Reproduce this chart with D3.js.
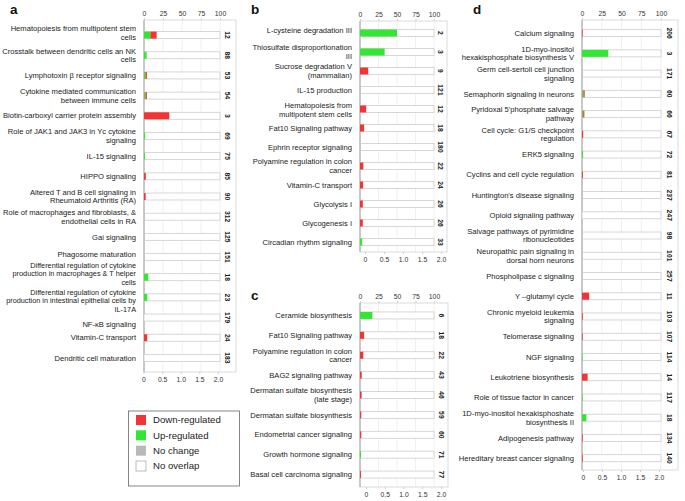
<!DOCTYPE html>
<html><head><meta charset="utf-8">
<script src="https://cdn.jsdelivr.net/npm/d3@7"></script>
<style>body{margin:0;background:#fff;} svg{display:block;font-family:"Liberation Sans",Arial,Helvetica,sans-serif;}</style>
</head><body><svg id="chart" width="685" height="501"></svg>
<script>
// ---------- data ----------
const topTicks = [0, 25, 50, 75, 100];
const bottomTicks = [0, 0.5, 1.0, 1.5, 2.0];
const bottomTickLabels = ["0", "0.5", "1.0", "1.5", "2.0"];
const legendLabels = ["Down-regulated", "Up-regulated", "No change", "No overlap"];

const aCategories = [
  "Hematopoiesis from multipotent stem\ncells",
  "Crosstalk between dendritic cells an NK\ncells",
  "Lymphotoxin β receptor signaling",
  "Cytokine mediated communication\nbetween immune cells",
  "Biotin-carboxyl carrier protein assembly",
  "Role of JAK1 and JAK3 in Yc cytokine\nsignaling",
  "IL-15 signaling",
  "HIPPO signaling",
  "Altered T and B cell signaling in\nRheumatoid Arthritis (RA)",
  "Role of macrophages and fibroblasts, &\nendothelial cells in RA",
  "Gai signaling",
  "Phagosome maturation",
  "Differential regulation of cytokine\nproduction in macrophages & T helper\ncells",
  "Differential regulation of cytokine\nproduction in intestinal epithelial cells by\nIL-17A",
  "NF-κB signaling",
  "Vitamin-C transport",
  "Dendritic cell maturation"
];
const aTotals   = [12, 88, 53, 54, 3, 69, 75, 85, 90, 312, 125, 151, 18, 23, 179, 24, 183];
const aUp       = [8.3, 3.4, 1.9, 1.9, 0, 1.5, 1.3, 0, 0, 0, 0, 0, 5.6, 4.3, 0, 0, 0];
const aDown     = [8.3, 0, 1.9, 1.9, 33.3, 0, 0, 2.4, 2.2, 0, 0, 0, 0, 0, 0, 4.2, 0];
const aNoChange = [0, 0, 0, 0, 0, 0, 0, 0, 0, 0.3, 0.8, 0.7, 0, 0, 0, 0, 0];

const bCategories = [
  "L-cysteine degradation III",
  "Thiosulfate disproportionation\nIII",
  "Sucrose degradation V\n(mammalian)",
  "IL-15 production",
  "Hematopoiesis from\nmultipotent stem cells",
  "Fat10 Signaling pathway",
  "Ephrin receptor signaling",
  "Polyamine regulation in colon\ncancer",
  "Vitamin-C transport",
  "Glycolysis I",
  "Glycogenesis I",
  "Circadian rhythm signaling"
];
const bTotals   = [2, 3, 9, 121, 12, 18, 180, 22, 24, 26, 26, 33];
const bUp       = [50, 33.3, 0, 0, 0, 0, 0, 0, 0, 0, 0, 3.0];
const bDown     = [0, 0, 11.1, 0, 8.3, 5.6, 0, 4.5, 4.2, 3.8, 3.8, 0];
const bNoChange = [0, 0, 0, 0.8, 0, 0, 0.6, 0, 0, 0, 0, 0];

const cCategories = [
  "Ceramide biosynthesis",
  "Fat10 Signaling pathway",
  "Polyamine regulation in colon\ncancer",
  "BAG2 signaling pathway",
  "Dermatan sulfate biosynthesis\n(late stage)",
  "Dermatan sulfate biosynthesis",
  "Endometrial cancer signaling",
  "Growth hormone signaling",
  "Basal cell carcinoma signaling"
];
const cTotals   = [6, 18, 22, 43, 46, 59, 60, 71, 77];
const cUp       = [16.7, 0, 0, 0, 0, 0, 0, 1.4, 0];
const cDown     = [0, 5.6, 4.5, 2.3, 2.2, 1.7, 1.7, 0, 1.3];
const cNoChange = [0, 0, 0, 0, 0, 0, 0, 0, 0];

const dCategories = [
  "Calcium signaling",
  "1D-myo-inositol\nhexakisphosphate biosynthesis V",
  "Germ cell-sertoli cell junction\nsignaling",
  "Semaphorin signaling in neurons",
  "Pyridoxal 5'phosphate salvage\npathway",
  "Cell cycle: G1/S checkpoint\nregulation",
  "ERK5 signaling",
  "Cyclins and cell cycle regulation",
  "Huntington's disease signaling",
  "Opioid signaling pathway",
  "Salvage pathways of pyrimidine\nribonucleotides",
  "Neuropathic pain signaling in\ndorsal horn neurons",
  "Phospholipase c signaling",
  "Y –glutamyl cycle",
  "Chronic myeloid leukemia\nsignaling",
  "Telomerase signaling",
  "NGF signaling",
  "Leukotriene biosynthesis",
  "Role of tissue factor in cancer",
  "1D-myo-inositol hexakisphoshate\nbiosynthesis II",
  "Adipogenesis pathway",
  "Hereditary breast cancer signaling"
];
const dTotals   = [206, 3, 171, 60, 66, 67, 72, 81, 237, 247, 98, 101, 257, 11, 103, 107, 114, 14, 117, 18, 134, 140];
const dUp       = [0, 33.3, 0, 1.7, 1.5, 0, 1.4, 0, 0, 0, 0, 0, 0, 0, 0, 0, 0.9, 0, 0.9, 5.6, 0, 0];
const dDown     = [1.0, 0, 0, 1.7, 1.5, 1.5, 0, 1.2, 0, 0, 0, 0, 0, 9.1, 1.0, 0.9, 0, 7.1, 0, 0, 0.7, 0.7];
const dNoChange = [0, 0, 0.6, 0, 0, 0, 0, 0, 0.4, 0, 1.0, 1.0, 0.4, 0, 0, 0, 0, 0, 0, 0, 0, 0];

// ---------- styles / layout ----------
const RED = "#f43434", GREEN = "#33e633", GRAY = "#b9b9b9";
const FONT = '"Liberation Sans", Arial, Helvetica, sans-serif';
const svg = d3.select("#chart");

const layouts = {
  a: {letter: "a", lx: 10, ly: 14, x0: 144, x1: 220, bx0: 143.5, bx1: 218, yTop: 20, yBot: 372, bandTop: 25, bandBot: 368, right: 236, numX: 227,
      nudge: {0: -2, 11: -3, 12: -3.5, 13: 3.5, 14: 7}},
  b: {letter: "b", lx: 251, ly: 14, x0: 360, x1: 434, bx0: 365, bx1: 441, yTop: 21, yBot: 252, bandTop: 23.5, bandBot: 251.5, right: 447, numX: 440,
      nudge: {0: -3, 4: 1}},
  c: {letter: "c", lx: 251, ly: 300, x0: 360, x1: 434, bx0: 366, bx1: 441, yTop: 303, yBot: 487, bandTop: 305.5, bandBot: 484.5, right: 448, numX: 441,
      nudge: {}},
  d: {letter: "d", lx: 473, ly: 14, x0: 582, x1: 661, bx0: 583, bx1: 659, yTop: 20, yBot: 470, bandTop: 23, bandBot: 468.3, right: 678, numX: 669,
      nudge: {}}
};

function drawPanel(p, cats, totals, up, down, nc) {
  const g = svg.append("g");
  const x = d3.scaleLinear().domain([0, 100]).range([p.x0, p.x1]);
  const xb = d3.scaleLinear().domain([0, 2]).range([p.bx0, p.bx1]);
  const y = d3.scaleBand().domain(d3.range(cats.length)).range([p.bandTop, p.bandBot]);
  const cy = i => y(i) + y.bandwidth() / 2;

  // gridlines
  g.selectAll("line.grid").data(topTicks.slice(1)).join("line")
    .attr("x1", d => x(d)).attr("x2", d => x(d))
    .attr("y1", p.yTop).attr("y2", p.yBot)
    .attr("stroke", "#ececec").attr("stroke-width", 0.8);

  // frame
  g.append("rect").attr("x", p.x0).attr("y", p.yTop)
    .attr("width", p.right - p.x0).attr("height", p.yBot - p.yTop)
    .attr("fill", "none").attr("stroke", "#d2d2d2").attr("stroke-width", 0.8);
  g.append("line").attr("x1", p.x0).attr("x2", p.x0).attr("y1", p.yTop).attr("y2", p.yBot)
    .attr("stroke", "#9a9a9a").attr("stroke-width", 0.9);

  // top axis
  const ta = g.append("g").attr("transform", `translate(0,${p.yTop})`)
    .call(d3.axisTop(x).tickValues(topTicks).tickSize(2).tickPadding(2).tickFormat(d3.format("d")));
  ta.select(".domain").remove();
  ta.selectAll("line").attr("stroke", "#cfcfcf");
  ta.selectAll("text").attr("font-size", 6.8).attr("fill", "#333").attr("font-family", FONT);

  // bottom axis
  const ba = g.append("g").attr("transform", `translate(0,${p.yBot})`)
    .call(d3.axisBottom(xb).tickValues(bottomTicks).tickSize(2).tickPadding(3)
      .tickFormat((d, i) => bottomTickLabels[i]));
  ba.select(".domain").remove();
  ba.selectAll("line").attr("stroke", "#cfcfcf");
  ba.selectAll("text").attr("font-size", 6.8).attr("fill", "#333").attr("font-family", FONT);

  // rows
  const rows = g.selectAll("g.row").data(cats.map((c, i) => ({c, i}))).join("g");
  const bh = 7;
  rows.append("rect")
    .attr("x", x(0)).attr("y", d => cy(d.i) - bh / 2)
    .attr("width", x(100) - x(0)).attr("height", bh)
    .attr("fill", "#fff").attr("stroke", "#cdcdcd").attr("stroke-width", 0.8);
  const segs = [];
  cats.forEach((c, i) => {
    let s = 0;
    [[up[i], GREEN], [down[i], RED], [nc[i], GRAY]].forEach(([v, col]) => {
      if (v > 0) { segs.push({i, a: s, b: s + v, col}); s += v; }
    });
  });
  g.selectAll("rect.seg").data(segs).join("rect")
    .attr("x", d => x(d.a)).attr("width", d => Math.max(0.8, x(d.b) - x(d.a)))
    .attr("y", d => cy(d.i) - bh / 2).attr("height", bh)
    .attr("fill", d => d.col);

  // labels
  rows.append("text")
    .attr("text-anchor", "end").attr("fill", "#1a1a1a")
    .attr("font-family", FONT)
    .each(function(d) {
      const lines = d.c.split("\n");
      const fs = lines.length > 2 ? 7.3 : 7.6;
      const lh = lines.length > 2 ? 8.4 : 8.6;
      const c0 = cy(d.i) + (p.nudge[d.i] || 0);
      const t = d3.select(this).attr("font-size", fs);
      lines.forEach((ln, k) => {
        t.append("tspan").attr("x", p.x0 - 8)
          .attr("y", c0 - (lines.length - 1) * lh / 2 + k * lh)
          .attr("dy", "0.35em").text(ln);
      });
    });

  // totals (rotated)
  rows.append("text")
    .attr("transform", d => `translate(${p.numX},${cy(d.i)}) rotate(90)`)
    .attr("text-anchor", "middle").attr("dy", "0.35em")
    .attr("font-size", 6.8).attr("font-weight", "bold").attr("fill", "#1a1a1a")
    .attr("font-family", FONT)
    .text(d => totals[d.i]);

  // panel letter
  svg.append("text").attr("x", p.lx).attr("y", p.ly)
    .attr("font-size", 13.5).attr("font-weight", "bold").attr("font-family", FONT)
    .attr("fill", "#111").text(p.letter);
}

drawPanel(layouts.a, aCategories, aTotals, aUp, aDown, aNoChange);
drawPanel(layouts.b, bCategories, bTotals, bUp, bDown, bNoChange);
drawPanel(layouts.c, cCategories, cTotals, cUp, cDown, cNoChange);
drawPanel(layouts.d, dCategories, dTotals, dUp, dDown, dNoChange);

// legend
const legendColors = [RED, GREEN, GRAY, "#fff"];
const lg = svg.append("g");
lg.append("rect").attr("x", 128.5).attr("y", 411).attr("width", 111).attr("height", 75)
  .attr("fill", "#fff").attr("stroke", "#666").attr("stroke-width", 0.8);
const ly = d3.scalePoint().domain(legendLabels).range([420, 466]);
lg.selectAll("rect.sw").data(legendLabels).join("rect")
  .attr("x", 136).attr("y", d => ly(d) - 5).attr("width", 10).attr("height", 10)
  .attr("fill", (d, i) => legendColors[i])
  .attr("stroke", (d, i) => i === 3 ? "#aaa" : "none").attr("stroke-width", 0.8);
lg.selectAll("text").data(legendLabels).join("text")
  .attr("x", 153).attr("y", d => ly(d)).attr("dy", "0.35em")
  .attr("font-size", 9.6).attr("fill", "#222").attr("font-family", FONT)
  .text(d => d);
</script></body></html>
